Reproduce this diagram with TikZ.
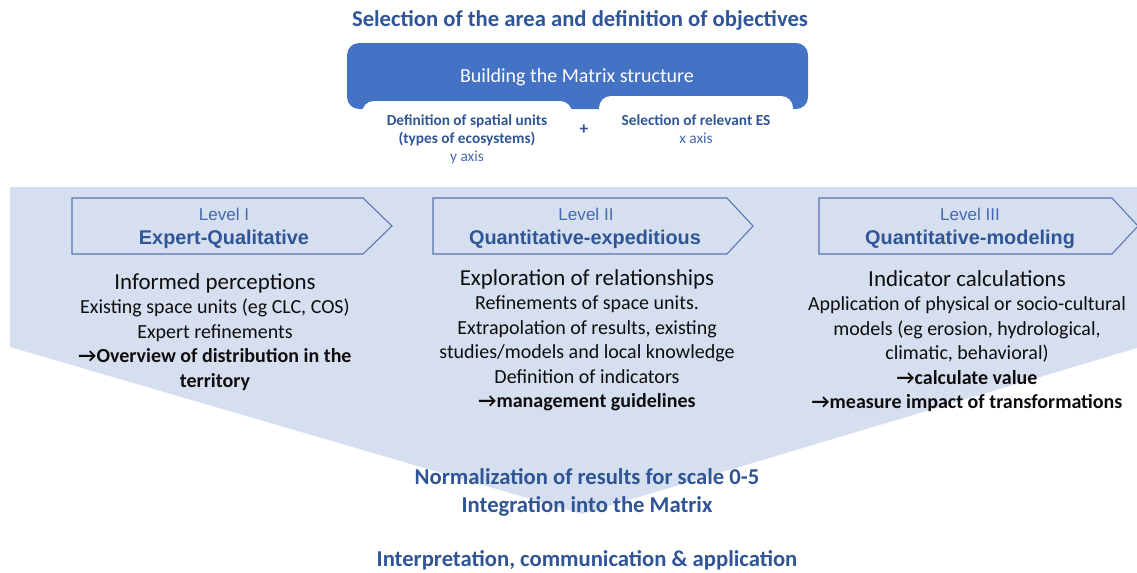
\documentclass[tikz,border=0pt]{standalone}
\usepackage{fontspec}
\setmainfont{Carlito}
\newfontfamily\arialfont{Liberation Sans}

\definecolor{titleblue}{RGB}{47,85,151}
\definecolor{matrixblue}{RGB}{68,114,196}
\definecolor{levelblue}{RGB}{70,105,175}
\definecolor{funnel}{RGB}{214,223,240}
\definecolor{arrowline}{RGB}{88,118,178}

\begin{document}
\begin{tikzpicture}[
		x=0.75pt, y=-0.75pt,
		every node/.style={inner sep=0pt, align=center},
		heading/.style={font=\bfseries\fontsize{17}{21}\selectfont, text=titleblue},
		levelbox/.style={draw=arrowline, line width=0.8pt},
		levelname/.style={font=\arialfont\fontsize{12.8}{15}\selectfont, text=levelblue},
		leveltitle/.style={font=\arialfont\bfseries\fontsize{14.9}{17}\selectfont, text=titleblue},
		axisbox/.style={font=\fontsize{11.5}{13.5}\selectfont, text=titleblue},
		column/.style={font=\fontsize{15}{18.4}\selectfont, text=black!95, anchor=north}
	]
  \useasboundingbox (0,0) rectangle (1137,572);
  % funnel behind the three levels
  \fill[funnel] (10,187) -- (1137,187) -- (1137,348) -- (582,514) -- (10,347) -- cycle;
  % matrix structure with its two axes
  \fill[matrixblue, rounded corners=9pt] (347,43) rectangle (808,109);
  \fill[white, rounded corners=9pt] (362,101) rectangle (572,178);
  \fill[white, rounded corners=9pt] (599,96) rectangle (793,178);
  \node (title) [heading] at (580,20) {Selection of the area and definition of objectives};
  \node (matrix) [font=\fontsize{15}{18}\selectfont, text=white] at (577,77) {Building the Matrix structure};
  \node (units) [axisbox] at (467,139)
    {\textbf{Definition of spatial units}\\\textbf{(types of ecosystems)}\\\textcolor{levelblue}{y axis}};
  \node (plus) [font=\bfseries\fontsize{13}{15}\selectfont, text=titleblue] at (584,130) {+};
  \node (services) [axisbox] at (696,129)
    {\textbf{Selection of relevant ES}\\\textcolor{levelblue}{x axis}};
  % level arrows
  \draw[levelbox] (72,198) -- (363,198) -- (392,226) -- (363,254) -- (72,254) -- cycle;
  \draw[levelbox] (433,198) -- (727,198) -- (753,226) -- (727,254) -- (433,254) -- cycle;
  \draw[levelbox] (819,198) -- (1112,198) -- (1138,226) -- (1112,254) -- (819,254) -- cycle;
  \node (lvl_1) [levelname] at (224,214) {Level I};
  \node (lvl_1_title) [leveltitle] at (224,239) {Expert-Qualitative};
  \node (lvl_2) [levelname] at (586,214) {Level II};
  \node (lvl_2_title) [leveltitle] at (585,239) {Quantitative-expeditious};
  \node (lvl_3) [levelname] at (970,214) {Level III};
  \node (lvl_3_title) [leveltitle] at (970,239) {Quantitative-modeling};
  % what each level does
  \node (col_1) [column] at (215,273)
    {{\fontsize{17.2}{18.4}\selectfont Informed perceptions}\\Existing space units (eg CLC, COS)\\Expert refinements\\
     \textbf{→Overview of distribution in the}\\\textbf{territory}};
  \node (col_2) [column] at (587,269)
    {{\fontsize{17.2}{18.4}\selectfont Exploration of relationships}\\Refinements of space units.\\Extrapolation of results, existing\\
     studies/models and local knowledge\\Definition of indicators\\\textbf{→management guidelines}};
  \node (col_3) [column] at (967,270)
    {{\fontsize{17.2}{18.4}\selectfont Indicator calculations}\\Application of physical or socio-cultural\\models (eg erosion, hydrological,\\
     climatic, behavioral)\\\textbf{→calculate value}\\\textbf{→measure impact of transformations}};
  % results
  \node (norm) [heading] at (587,492) {Normalization of results for scale 0-5\\Integration into the Matrix};
  \node (interp) [heading] at (587,560) {Interpretation, communication \& application};
\end{tikzpicture}
\end{document}
